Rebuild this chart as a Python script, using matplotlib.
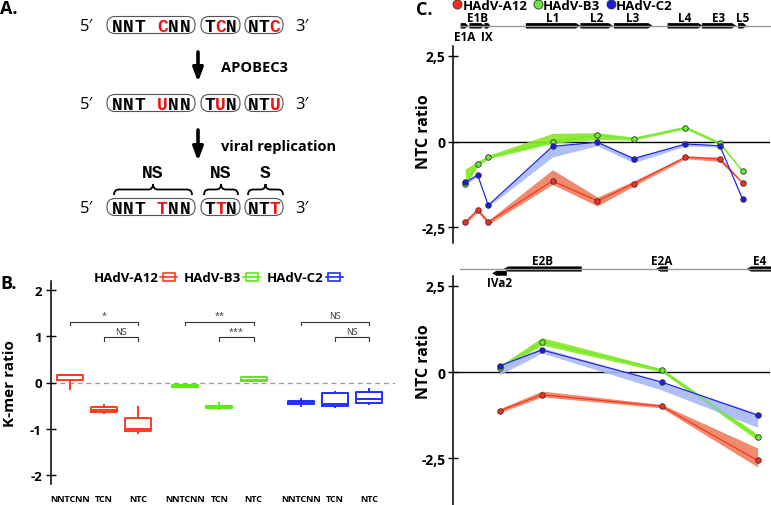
import numpy as np
import matplotlib
matplotlib.use("Agg")
import matplotlib.pyplot as plt
from matplotlib.patches import FancyBboxPatch, Rectangle, Polygon, PathPatch
from matplotlib.path import Path
from matplotlib.legend_handler import HandlerBase
from matplotlib.lines import Line2D

plt.rcParams['font.family'] = ['Open Sans', 'DejaVu Sans']
plt.rcParams['axes.unicode_minus'] = False

# ---------------- data ----------------
# panel A
seq_rows = [
    (["NNT CNN", "TCN", "NTC"], [4, 1, 2]),
    (["NNT UNN", "TUN", "NTU"], [4, 1, 2]),
    (["NNT TNN", "TTN", "NTT"], [4, 1, 2]),
]
steps = ["APOBEC3", "viral replication"]
syn_labels = ["NS", "NS", "S"]

# panel B : whislo, q1, med, q3, whishi
strains = ["HAdV-A12", "HAdV-B3", "HAdV-C2"]
kmers = ["NNTCNN", "TCN", "NTC"]
a12_box = [(-0.15, 0.05, 0.16, 0.17, 0.17), (-0.67, -0.64, -0.60, -0.54, -0.48), (-1.10, -1.06, -1.00, -0.77, -0.54)]
b3_box = [(-0.09, -0.09, -0.08, -0.06, -0.06), (-0.57, -0.55, -0.53, -0.51, -0.45), (0.03, 0.03, 0.06, 0.12, 0.12)]
c2_box = [(-0.52, -0.46, -0.43, -0.40, -0.35), (-0.53, -0.51, -0.46, -0.22, -0.20), (-0.46, -0.44, -0.35, -0.20, -0.15)]
sig_long = ["*", "**", "NS"]     # NNTCNN vs NTC
sig_short = ["NS", "***", "NS"]  # TCN vs NTC

# panel C top (genome position, kb)
top_x = [1.4, 2.8, 4.0, 11.3, 16.4, 20.5, 26.4, 30.3, 32.9]
top_red = [-2.35, -1.99, -2.35, -1.15, -1.73, -1.23, -0.45, -0.51, -1.21]
top_red_lo = [-2.42, -2.05, -2.42, -1.25, -1.88, -1.30, -0.50, -0.58, -1.23]
top_red_hi = [-2.30, -1.95, -2.30, -0.82, -1.62, -1.15, -0.42, -0.45, -1.19]
top_green = [-1.23, -0.66, -0.45, 0.00, 0.19, 0.08, 0.41, -0.05, -0.87]
top_green_lo = [-1.27, -0.72, -0.50, -0.05, 0.06, 0.04, 0.37, -0.09, -0.90]
top_green_hi = [-0.80, -0.58, -0.40, 0.24, 0.26, 0.13, 0.45, 0.00, -0.85]
top_blue = [-1.19, -0.98, -1.86, -0.14, -0.02, -0.50, -0.07, -0.12, -1.69]
top_blue_lo = [-1.25, -1.02, -1.90, -0.45, -0.12, -0.62, -0.13, -0.16, -1.72]
top_blue_hi = [-1.12, -0.95, -1.84, -0.10, 0.00, -0.45, -0.05, -0.10, -1.66]

# panel C bottom
bot_x = [5.3, 10.1, 23.7, 34.6]
bot_red = [-1.12, -0.66, -0.99, -2.56]
bot_red_lo = [-1.18, -0.72, -1.04, -2.75]
bot_red_hi = [-1.06, -0.55, -0.94, -2.20]
bot_green = [0.12, 0.87, 0.06, -1.89]
bot_green_lo = [0.04, 0.78, 0.00, -1.98]
bot_green_hi = [0.18, 1.00, 0.10, -1.80]
bot_blue = [0.18, 0.64, -0.29, -1.25]
bot_blue_lo = [-0.08, 0.55, -0.52, -1.60]
bot_blue_hi = [0.22, 0.70, -0.27, -1.20]

# genes: name, start, end, strand, label side
top_genes = [("E1A", 0.9, 1.7, 1, "below"), ("E1B", 1.9, 3.6, 1, "above"), ("IX", 3.6, 4.2, 1, "below"),
             ("L1", 8.3, 14.4, 1, "above"), ("L2", 14.5, 18.1, 1, "above"), ("L3", 18.3, 22.6, 1, "above"),
             ("L4", 24.4, 28.3, 1, "above"), ("E3", 28.3, 32.1, 1, "above"), ("L5", 32.4, 33.3, 1, "above")]
bot_genes = [("IVa2", 4.5, 6.1, -1, "below"), ("E2B", 5.8, 14.6, -1, "above"),
             ("E2A", 23.1, 24.4, -1, "above"), ("E4", 33.4, 36.2, -1, "above")]

box_cols = ["#ff3b1f", "#55ee11", "#1f2fff"]
pt_cols = ["#ff2a1a", "#66ee33", "#1a1aee"]
band_cols = ["#ee8060", "#88e622", "#a9b9f2"]
red_txt = "#ee1111"

fig = plt.figure(figsize=(7.71, 5.06), dpi=100)

# overlay in pixel coordinates for the diagram / labels
ov = fig.add_axes([0, 0, 1, 1], facecolor="none")
ov.set_xlim(0, 771)
ov.set_ylim(506, 0)
ov.axis("off")

for lab, x, y in [("A.", 0, 9), ("B.", 0, 284), ("C.", 416, 10)]:
    ov.text(x, y, lab, fontsize=13, fontweight="bold", va="center", ha="left")

# ---- panel A ----
row_y = [26, 104, 208]
box_l = [107, 201, 245]
box_r = [195, 240, 283]
pitch = [11.3, 11.0, 11.0]
seqfont = dict(family="Liberation Mono", fontweight="bold", fontsize=13)
for (tokens, reds), y in zip(seq_rows, row_y):
    ov.text(87, y + 1, "5\u2032", fontsize=12, ha="center", va="center", family=["Open Sans", "DejaVu Sans"])
    ov.text(302, y + 1, "3\u2032", fontsize=12, ha="center", va="center", family=["Open Sans", "DejaVu Sans"])
    for tok, ri, l, r, p in zip(tokens, reds, box_l, box_r, pitch):
        ov.add_patch(FancyBboxPatch((l, y - 8.5), r - l, 17, boxstyle="round,pad=0,rounding_size=8",
                                    fc="none", ec="#555555", lw=0.8))
        c0 = (l + r) / 2 - (len(tok) - 1) / 2 * p
        for i, ch in enumerate(tok):
            ov.text(c0 + i * p, y + 1, ch, color=red_txt if i == ri else "black",
                    ha="center", va="center", **seqfont)

for (y0, y1), s in zip([(53, 83), (131, 162)], steps):
    ov.annotate("", xy=(198, y1), xytext=(198, y0),
                arrowprops=dict(arrowstyle="-|>,head_width=0.3,head_length=0.8", lw=2.6, color="black",
                                shrinkA=0, shrinkB=0))
    ov.text(221, (y0 + y1) / 2, s, fontsize=10.5, fontweight="bold", va="center", ha="left")


def brace(ax, x0, x1, yb, ym, yt, r=5):
    xm = (x0 + x1) / 2
    verts = [(x0, yb), (x0, ym), (x0 + r, ym), (xm - r, ym), (xm, ym), (xm, yt),
             (xm, ym), (xm + r, ym), (x1 - r, ym), (x1, ym), (x1, yb)]
    codes = [Path.MOVETO, Path.CURVE3, Path.CURVE3, Path.LINETO, Path.CURVE3, Path.CURVE3,
             Path.CURVE3, Path.CURVE3, Path.LINETO, Path.CURVE3, Path.CURVE3]
    ax.add_patch(PathPatch(Path(verts, codes), fc="none", ec="black", lw=1.3))


for l, r, s in zip([114, 204, 248], [192, 238, 283], syn_labels):
    brace(ov, l, r, 196, 190.5, 185)
    ov.text((l + r) / 2, 173, s, ha="center", va="center", **seqfont)

# ---- panel B ----
axB = fig.add_axes([51 / 771, 1 - 485 / 506, 344 / 771, 203 / 506], facecolor="none")
positions = [1, 2, 3, 4.37, 5.37, 6.37, 7.75, 8.75, 9.75]
all_boxes = [a12_box, b3_box, c2_box]
for g, (boxes, col) in enumerate(zip(all_boxes, box_cols)):
    stats = [dict(whislo=b[0], q1=b[1], med=b[2], q3=b[3], whishi=b[4], fliers=[]) for b in boxes]
    pos = positions[3 * g:3 * g + 3]
    axB.bxp(stats, positions=pos, widths=0.76, showfliers=False, showcaps=False,
            boxprops=dict(color=col, lw=1.4), medianprops=dict(color=col, lw=1.4),
            whiskerprops=dict(color=col, lw=1.4))
    # significance brackets
    for (i0, i1), txt, yb in [((0, 2), sig_long[g], 1.32), ((1, 2), sig_short[g], 0.98)]:
        xa, xb = pos[i0], pos[i1]
        axB.plot([xa, xa, xb, xb], [yb - 0.07, yb, yb, yb - 0.07], color="#333333", lw=0.8)
        axB.text((xa + xb) / 2, yb + 0.03, txt, fontsize=6.5, ha="center", va="bottom", color="#333333")

axB.axhline(0, color="#9a9a9a", lw=0.9, ls=(0, (4, 3)), zorder=0)
axB.set_xlim(0.45, 10.5)
axB.set_ylim(-2.2, 2.2)
axB.set_xticks(positions)
axB.set_xticklabels(kmers * 3, fontsize=6.5, fontweight="bold")
axB.tick_params(axis="x", length=0, pad=7)
axB.set_yticks([2, 1, 0, -1, -2])
axB.set_yticklabels(["2", "1", "0", "-1", "-2"], fontsize=9.5, fontweight="bold")
axB.tick_params(axis="y", direction="inout", length=7, width=1, pad=3)
for s in ["top", "right", "bottom"]:
    axB.spines[s].set_visible(False)
axB.spines["left"].set_linewidth(1.1)
axB.set_ylabel("K-mer ratio", fontsize=11, fontweight="bold")
axB.yaxis.set_label_coords(-0.1, 0.5)


class BoxHandler(HandlerBase):
    def create_artists(self, legend, orig_handle, xdescent, ydescent, width, height, fontsize, trans):
        c = orig_handle.get_color()
        x0, y0 = -xdescent, -ydescent
        rect = Rectangle((x0 + 0.15 * width, y0 + 0.1 * height), 0.7 * width, 0.8 * height,
                         fc="none", ec=c, lw=1.2, transform=trans)
        ln = Line2D([x0, x0 + width], [y0 + 0.5 * height] * 2, color=c, lw=1.2, transform=trans)
        return [rect, ln]


hB = [Line2D([], [], color=c) for c in box_cols]
fig.legend(hB, strains, loc="center", bbox_to_anchor=(218 / 771, 1 - 279 / 506), ncol=3, frameon=False,
           markerfirst=False, handler_map={Line2D: BoxHandler()}, handlelength=1.3, handleheight=0.7,
           handletextpad=0.15, columnspacing=0.5, prop=dict(weight="bold", size=9.5))

# ---- panel C ----
axT = fig.add_axes([453 / 771, 1 - 244 / 506, 317 / 771, 197 / 506], facecolor="none")
axD = fig.add_axes([453 / 771, 0, 317 / 771, 229 / 506], facecolor="none")

series_top = [(top_red, top_red_lo, top_red_hi), (top_green, top_green_lo, top_green_hi),
              (top_blue, top_blue_lo, top_blue_hi)]
series_bot = [(bot_red, bot_red_lo, bot_red_hi), (bot_green, bot_green_lo, bot_green_hi),
              (bot_blue, bot_blue_lo, bot_blue_hi)]

for ax, xs, series, ylim, lab_y in [(axT, top_x, series_top, (-2.96, 2.79), 0.57),
                                    (axD, bot_x, series_bot, (-3.85, 2.78), 0.632)]:
    for (y, lo, hi), pc, bc in zip(series, pt_cols, band_cols):
        ax.fill_between(xs, lo, hi, color=bc, lw=0, alpha=0.9)
        ax.plot(xs, y, color=pc, lw=0.8)
        ax.plot(xs, y, ls="", marker="o", ms=4, mfc=pc, mec="#333333", mew=0.6)
    ax.axhline(0, color="black", lw=1, zorder=0.5)
    ax.set_xlim(0, 36)
    ax.set_ylim(*ylim)
    ax.set_xticks([])
    ax.set_yticks([2.5, 0, -2.5])
    ax.set_yticklabels(["2,5", "0", "-2,5"], fontsize=10, fontweight="bold")
    ax.tick_params(axis="y", direction="inout", length=7, width=1, pad=2)
    for s in ["top", "right", "bottom"]:
        ax.spines[s].set_visible(False)
    ax.spines["left"].set_linewidth(1.1)
    ax.set_ylabel("NTC ratio", fontsize=11.5, fontweight="bold")
    ax.yaxis.set_label_coords(-0.066, lab_y)


def draw_genes(ax, genes, yline, h, above_y, below_y, low_y, tip=0.45):
    tr = ax.get_xaxis_transform()
    ax.plot([0.8, 36.2], [yline, yline], color="#999999", lw=1, transform=tr, clip_on=False)
    for name, s, e, strand, side in genes:
        yc = low_y if (side == "below" and name == "IVa2") else yline
        t = min(tip, (e - s) * 0.4)
        if strand > 0:
            xy = [(s, yc - h / 2), (e - t, yc - h / 2), (e, yc), (e - t, yc + h / 2), (s, yc + h / 2)]
        else:
            xy = [(e, yc - h / 2), (s + t, yc - h / 2), (s, yc), (s + t, yc + h / 2), (e, yc + h / 2)]
        ax.add_patch(Polygon(xy, closed=True, fc="black", ec="black", lw=0.3, transform=tr, clip_on=False))
        ly = above_y if side == "above" else below_y
        ax.text((s + e) / 2, ly, name, transform=tr, fontsize=8.5, fontweight="bold",
                ha="center", va="center", clip_on=False)


draw_genes(axT, top_genes, (244 - 26.7) / 197, 5 / 197, (244 - 18) / 197, (244 - 37) / 197, 0)
draw_genes(axD, bot_genes, (506 - 269.7) / 229.3, 4.5 / 229.3, (506 - 261) / 229.3, (506 - 283) / 229.3,
           (506 - 274) / 229.3)

hC = [Line2D([], [], ls="", marker="o", ms=6.5, mfc=c, mec="#333333", mew=0.6) for c in pt_cols]
fig.legend(hC, strains, loc="center", bbox_to_anchor=(563 / 771, 1 - 6 / 506), ncol=3, frameon=False,
           handlelength=0.6, handletextpad=0.1, columnspacing=0.5, borderpad=0,
           prop=dict(weight="bold", size=9.5))

fig.savefig("out.png", dpi=100)
